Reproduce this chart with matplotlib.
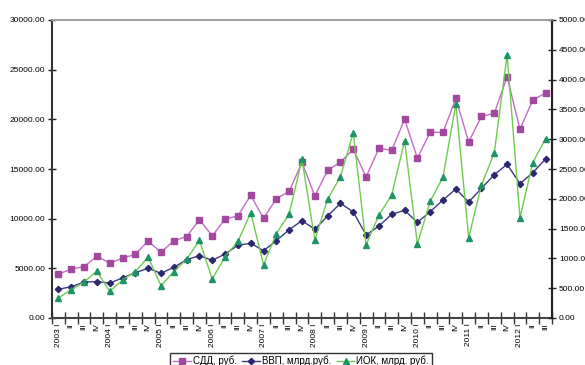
import matplotlib
matplotlib.use('Agg')
import matplotlib.pyplot as plt
import numpy as np
from matplotlib.ticker import FormatStrFormatter, FixedLocator

plt.rcParams['font.family'] = ['Liberation Sans', 'DejaVu Sans']

# quarterly series, 2003 I .. 2012 III
years = list(range(2003, 2013))
quarters = ['I', 'II', 'III', 'IV']

sdd = [4400, 4930, 5170, 6210, 5540, 6010, 6410, 7750,
       6610, 7780, 8190, 9900, 8260, 9970, 10270, 12350,
       10040, 12010, 12750, 15670, 12280, 14870, 15700, 16980,
       14200, 17080, 16880, 20000, 16110, 18690, 18690, 22110,
       17720, 20300, 20600, 24300, 18990, 21950, 22650]
vvp = [2890, 3150, 3620, 3660, 3520, 4030, 4560, 5000,
       4500, 5100, 5870, 6270, 5810, 6440, 7320, 7520,
       6780, 7780, 8890, 9800, 8930, 10270, 11550, 10670,
       8360, 9260, 10440, 10840, 9630, 10700, 11880, 12990,
       11680, 13050, 14430, 15470, 13520, 14630, 16010]
iok = [336, 475, 604, 783, 447, 638, 777, 1023,
       542, 777, 985, 1304, 654, 1029, 1287, 1767,
       894, 1415, 1745, 2663, 1309, 1992, 2371, 3109,
       1225, 1728, 2064, 2970, 1242, 1958, 2366, 3591,
       1348, 2232, 2774, 4413, 1683, 2606, 3009]

labels = []
for y in years:
    for q in quarters:
        labels.append(f'{y} {q}' if q == 'I' else q)
labels = labels[:len(sdd)]

x = np.arange(len(sdd))

fig = plt.figure(figsize=(5.85, 3.65), dpi=100)
ax = fig.add_axes([52 / 585, 1 - 318 / 365, 500 / 585, 298 / 365])
ax2 = ax.twinx()

l1, = ax.plot(x, sdd, color='#C46CC4', lw=1.0, marker='s', ms=4.2,
              mfc='#A3489F', mec='#A3489F', label='СДД, руб.')
l2, = ax.plot(x, vvp, color='#3C3A82', lw=1.0, marker='D', ms=3.2,
              mfc='#2C2870', mec='#2C2870', label='ВВП, млрд.руб.')
l3, = ax2.plot(x, iok, color='#6FCB4F', lw=1.0, marker='^', ms=4.2,
               mfc='#1E9466', mec='#1E9466', label='ИОК, млрд. руб.')

ax.set_xlim(-0.5, len(sdd) - 0.5)
ax.set_ylim(0, 30000)
ax2.set_ylim(0, 5000)
ax.set_yticks(np.arange(0, 30001, 5000))
ax2.set_yticks(np.arange(0, 5001, 500))
ax.yaxis.set_major_formatter(FormatStrFormatter('%.2f'))
ax2.yaxis.set_major_formatter(FormatStrFormatter('%.2f'))

# tick marks between quarters, labels under each quarter
ax.xaxis.set_major_locator(FixedLocator(np.arange(-0.5, len(sdd), 1.0)))
ax.xaxis.set_minor_locator(FixedLocator(x))
ax.set_xticklabels([])
ax.set_xticklabels(labels, minor=True, rotation=90, fontsize=6)
ax.tick_params(axis='x', which='major', direction='inout', length=8,
               width=1.0, color='#333333')
ax.tick_params(axis='x', which='minor', length=0, pad=4)

ax.tick_params(axis='y', direction='inout', length=6, width=1.0,
               labelsize=6, pad=2, color='#222222')
ax2.tick_params(axis='y', direction='inout', length=6, width=1.0,
                labelsize=6, pad=2, color='#222222')

for a in (ax, ax2):
    a.spines['top'].set_color('#A0A0A0')
    a.spines['top'].set_linewidth(1.2)
ax.spines['left'].set_color('#333333')
ax.spines['left'].set_linewidth(1.5)
ax.spines['bottom'].set_color('#444444')
ax.spines['bottom'].set_linewidth(1.5)
ax2.spines['right'].set_color('#222222')
ax2.spines['right'].set_linewidth(1.5)
ax2.spines['left'].set_visible(False)
ax2.spines['bottom'].set_visible(False)

leg = fig.legend(handles=[l1, l2, l3], loc='upper center',
                 bbox_to_anchor=(301 / 585, 1 - 353 / 365), ncol=3,
                 fontsize=7, frameon=True, fancybox=False,
                 handlelength=1.8, handletextpad=0.2, columnspacing=0.6,
                 borderpad=0.3, borderaxespad=0)
leg.get_frame().set_edgecolor('black')
leg.get_frame().set_linewidth(1.0)

fig.savefig('out.png', dpi=100)
